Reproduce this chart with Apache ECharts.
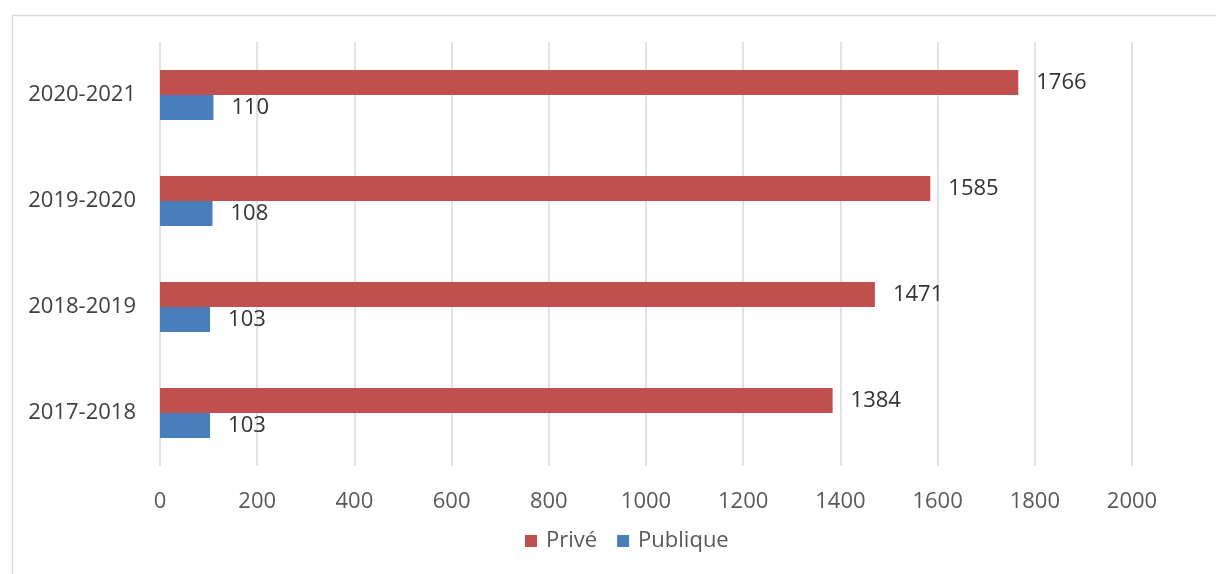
<!DOCTYPE html>
<html>
<head>
<meta charset="utf-8">
<script src="https://cdn.jsdelivr.net/npm/echarts@6/dist/echarts.min.js"></script>
<style>html,body{margin:0;padding:0;background:#fff;}#c{width:1216px;height:574px;}</style>
</head>
<body>
<div id="c"></div>
<script>
const categories = ['2017-2018', '2018-2019', '2019-2020', '2020-2021'];
const prive = [1384, 1471, 1585, 1766];
const publique = [103, 103, 108, 110];
const xTicks = [0, 200, 400, 600, 800, 1000, 1200, 1400, 1600, 1800, 2000];

const FONT = '"Open Sans", sans-serif';
const chart = echarts.init(document.getElementById('c'), null, {renderer: 'canvas'});
const labelStyle = {show: true, position: 'right', distance: 18, color: '#333', fontSize: 22, fontFamily: FONT};
chart.setOption({
  animation: false,
  backgroundColor: '#fff',
  graphic: [{
    type: 'rect', left: 10, top: 13,
    shape: {width: 1300, height: 700},
    style: {fill: 'none', stroke: '#d9d9d9', lineWidth: 1.5}
  }],
  grid: {left: 160, right: 84, top: 42, bottom: 108},
  legend: {
    data: ['Privé', 'Publique'],
    bottom: 17, left: 520,
    itemWidth: 12, itemHeight: 12, itemGap: 20,
    icon: 'rect',
    textStyle: {fontSize: 22, color: '#595959', fontFamily: FONT, padding: [0, 0, 0, 4]}
  },
  xAxis: {
    type: 'value', min: xTicks[0], max: xTicks[xTicks.length - 1], interval: 200,
    axisLine: {show: false}, axisTick: {show: false},
    splitLine: {show: true, lineStyle: {color: '#d9d9d9', width: 1.5}},
    axisLabel: {fontSize: 22, color: '#595959', fontFamily: FONT, margin: 25,
      formatter: v => String(v)}
  },
  yAxis: {
    type: 'category', data: categories,
    axisLine: {show: false}, axisTick: {show: false},
    axisLabel: {fontSize: 22, color: '#404040', fontFamily: FONT, margin: 24}
  },
  series: [
    {name: 'Privé', type: 'bar', data: prive, barWidth: 25, barGap: '0%',
     itemStyle: {color: '#C0504D'}, label: labelStyle},
    {name: 'Publique', type: 'bar', data: publique, barWidth: 25, barGap: '0%',
     itemStyle: {color: '#4A7EBB'}, label: labelStyle}
  ]
});
</script>
</body>
</html>
